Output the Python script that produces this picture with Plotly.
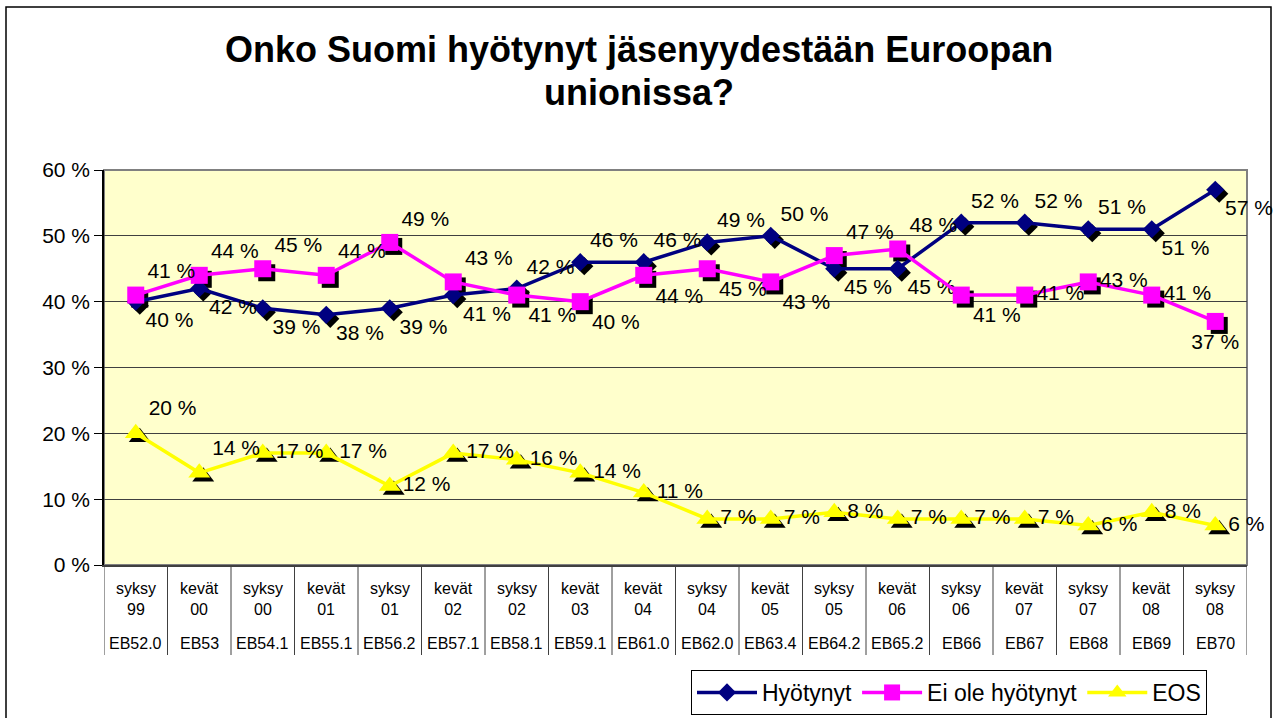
import plotly.graph_objects as go

# ---------------- data ----------------
seasons = ["syksy", "kevät", "syksy", "kevät", "syksy", "kevät", "syksy", "kevät", "kevät",
           "syksy", "kevät", "syksy", "kevät", "syksy", "kevät", "syksy", "kevät", "syksy"]
years = ["99", "00", "00", "01", "01", "02", "02", "03", "04",
         "04", "05", "05", "06", "06", "07", "07", "08", "08"]
eb_codes = ["EB52.0", "EB53", "EB54.1", "EB55.1", "EB56.2", "EB57.1", "EB58.1", "EB59.1", "EB61.0",
            "EB62.0", "EB63.4", "EB64.2", "EB65.2", "EB66", "EB67", "EB68", "EB69", "EB70"]

hyotynyt = [40, 42, 39, 38, 39, 41, 42, 46, 46, 49, 50, 45, 45, 52, 52, 51, 51, 57]
ei_ole = [41, 44, 45, 44, 49, 43, 41, 40, 44, 45, 43, 47, 48, 41, 41, 43, 41, 37]
eos = [20, 14, 17, 17, 12, 17, 16, 14, 11, 7, 7, 8, 7, 7, 7, 6, 8, 6]

title_lines = ["Onko Suomi hyötynyt jäsenyydestään Euroopan", "unionissa?"]

# ---------------- label placement (style) ----------------
BR, TR, MR, BC = "bottom right", "top right", "middle right", "bottom center"
pos_hyot = [BR, BR, BR, BR, BR, BR, TR, TR, TR, TR, TR, BR, BR, TR, TR, TR, BR, BR]
pos_eiole = [TR, TR, TR, TR, TR, TR, BR, BR, BR, BR, BR, TR, TR, BR, MR, MR, MR, BC]
pos_eos = [TR, TR] + [MR] * 16

FONT = "Arial, Liberation Sans, sans-serif"
n = len(eb_codes)
idx = list(range(n))

# plot-area geometry (pixels) used for styling offsets
FW, FH = 1276, 718
L, R, T, B = 104, 29, 170, 153
W = FW - L - R
H = FH - T - B
shadow_px = 4
dx = shadow_px / (W / n)
dy = shadow_px / H * 60

series = [
    ("Hyötynyt", hyotynyt, "#000080", "diamond", 14, pos_hyot),
    ("Ei ole hyötynyt", ei_ole, "#FF00FF", "square", 17, pos_eiole),
    ("EOS", eos, "#FFFF00", "triangle-up", 19, pos_eos),
]

fig = go.Figure()

# shadows on (hidden, shifted) main axes
for name, vals, col, sym, size, pos in series:
    fig.add_trace(go.Scatter(
        x=idx, y=vals, mode="markers", xaxis="x", yaxis="y",
        marker=dict(symbol=sym, size=size, color="black", line=dict(width=0)),
        showlegend=False, hoverinfo="skip"))

# main series on the visible overlay axes
for name, vals, col, sym, size, pos in series:
    fig.add_trace(go.Scatter(
        x=idx, y=vals, name=name, mode="lines+markers+text", xaxis="x2", yaxis="y2",
        line=dict(color=col, width=3.5),
        marker=dict(symbol=sym, size=size, color=col, line=dict(width=0)),
        text=[f"{v} %" for v in vals], textposition=pos,
        textfont=dict(family=FONT, size=21, color="black"),
        cliponaxis=False))

annotations = []
shapes = []

# category table
for i in idx:
    annotations.append(dict(
        x=i, y=0, xref="x2", yref="paper", yanchor="middle", xanchor="center",
        yshift=-34, text=f"{seasons[i]}<br>{years[i]}", showarrow=False,
        font=dict(family=FONT, size=16, color="black")))
    annotations.append(dict(
        x=i, y=0, xref="x2", yref="paper", yanchor="middle", xanchor="center",
        yshift=-78, text=eb_codes[i], showarrow=False,
        font=dict(family=FONT, size=16, color="black")))
for i in range(n + 1):
    shapes.append(dict(type="line", xref="x2", yref="paper", x0=i - 0.5, x1=i - 0.5,
                       y0=0, y1=-90 / H, line=dict(color="#404040", width=1)))

# title (two lines)
for line_text, ypix in zip(title_lines, [50, 92]):
    annotations.append(dict(x=(639 - L) / W, xref="paper", y=(FH - B - ypix) / H, yref="paper",
                            yanchor="middle", xanchor="center", text=f"<b>{line_text}</b>",
                            showarrow=False, font=dict(family=FONT, size=36, color="black")))

# plot-area border and outer chart border
shapes.append(dict(type="rect", xref="paper", yref="paper", x0=0, x1=1, y0=0, y1=1,
                   line=dict(color="#808080", width=2), layer="below"))
shapes.append(dict(type="rect", xref="paper", yref="paper",
                   x0=(6 - L) / W, x1=(1271 - L) / W, y0=(FH - B - 740) / H, y1=(FH - B - 7) / H,
                   line=dict(color="black", width=1.5), layer="below"))

fig.update_layout(
    width=FW, height=FH,
    margin=dict(l=L, r=R, t=T, b=B, autoexpand=False),
    paper_bgcolor="white",
    plot_bgcolor="#FFFFCC",
    font=dict(family=FONT, color="black"),
    xaxis=dict(range=[-0.5 - dx, n - 0.5 - dx], visible=False, fixedrange=True),
    yaxis=dict(range=[0 + dy, 60 + dy], visible=False, fixedrange=True),
    xaxis2=dict(range=[-0.5, n - 0.5], overlaying="x", anchor="y2", showgrid=False,
                showticklabels=False, ticks="", showline=True, linecolor="#404040", linewidth=1.5,
                zeroline=False),
    yaxis2=dict(range=[0, 60], overlaying="y", anchor="x2", side="left", dtick=10,
                ticksuffix=" %", tickfont=dict(family=FONT, size=21, color="black"),
                ticks="outside", ticklen=8, tickcolor="black", showline=True,
                linecolor="black", linewidth=1.5, showgrid=True, gridcolor="#404040",
                gridwidth=1, zeroline=False),
    showlegend=True,
    legend=dict(orientation="h", xref="container", yref="container",
                x=691 / FW, y=1 - 670 / FH, xanchor="left", yanchor="top",
                bgcolor="white", bordercolor="black", borderwidth=1,
                font=dict(family=FONT, size=23, color="black"), itemwidth=60),
    annotations=annotations,
    shapes=shapes,
)

fig.write_html("out.html", config={"displayModeBar": False},
               post_script="document.body.style.margin='0';document.body.style.overflow='hidden';")
